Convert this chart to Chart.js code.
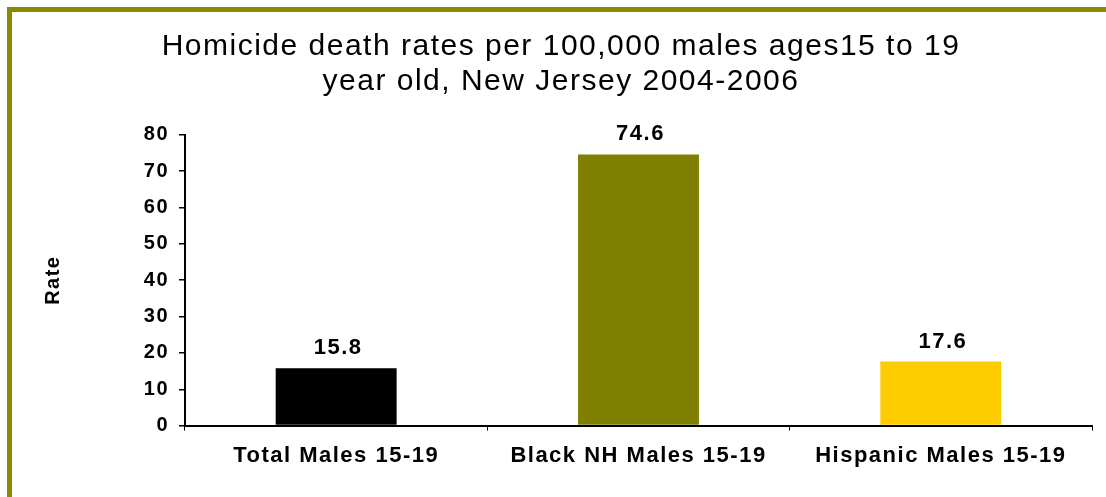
<!DOCTYPE html>
<html>
<head>
<meta charset="utf-8">
<script src="https://cdn.jsdelivr.net/npm/chart.js@4.4.1/dist/chart.umd.min.js"></script>
<style>
  html, body { margin: 0; padding: 0; background: #fff; }
  #frame {
    position: absolute; left: 7px; top: 7px; right: 0; bottom: 0;
    border-left: 5px solid #8a8a00; border-top: 5px solid #8a8a00;
  }
  #wrap { position: absolute; left: 0; top: 0; width: 1106px; height: 497px; }
</style>
</head>
<body>
<div id="frame"></div>
<div id="wrap"><canvas id="chart"></canvas></div>
<script>
// data
const categories = ['Total Males 15-19', 'Black NH Males 15-19', 'Hispanic Males 15-19'];
const rates = [15.8, 74.6, 17.6];
const barColors = ['#000000', '#808000', '#ffcc00'];
const titleLines = ['Homicide death rates per 100,000 males ages15 to 19', 'year old, New Jersey 2004-2006'];
const yMin = 0, yMax = 80, yStep = 10;

const FONT = '"Liberation Sans", Arial, sans-serif';

// canvas letter spacing (chart.js has no option for it)
const spacing = {
  id: 'spacing',
  beforeLayout(chart) { chart.ctx.letterSpacing = '1.5px'; },
  beforeDraw(chart) { chart.ctx.letterSpacing = '1.5px'; }
};

// value labels above the bars
const valueLabels = {
  id: 'valueLabels',
  afterDatasetsDraw(chart) {
    const ctx = chart.ctx;
    const meta = chart.getDatasetMeta(0);
    ctx.save();
    ctx.font = 'bold 22px ' + FONT;
    ctx.fillStyle = '#000';
    ctx.textAlign = 'center';
    ctx.textBaseline = 'alphabetic';
    meta.data.forEach((bar, i) => {
      ctx.fillText(rates[i].toFixed(1), bar.x + 2, bar.y - 14);
    });
    ctx.restore();
  }
};

new Chart(document.getElementById('chart'), {
  type: 'bar',
  data: {
    labels: categories,
    datasets: [{
      data: rates,
      backgroundColor: barColors,
      borderWidth: 0,
      categoryPercentage: 0.4,
      barPercentage: 1.0
    }]
  },
  options: {
    responsive: true,
    maintainAspectRatio: false,
    animation: false,
    layout: { padding: { left: 30, right: 14, top: 0, bottom: 0 } },
    plugins: {
      legend: { display: false },
      tooltip: { enabled: false },
      title: {
        display: true,
        text: titleLines,
        color: '#000',
        font: { family: FONT, size: 30, weight: 'normal', lineHeight: 1.18 },
        padding: { top: 29, bottom: 35 }
      }
    },
    scales: {
      x: {
        afterFit(scale) { scale.height = 71.4; },
        grid: { offset: true, drawOnChartArea: false, drawTicks: true, tickLength: 5, color: '#000', lineWidth: 1 },
        border: { display: true, color: '#000', width: 2 },
        ticks: { color: '#000', padding: 12, font: { family: FONT, size: 22, weight: 'bold' } }
      },
      y: {
        min: yMin,
        max: yMax,
        afterFit(scale) { scale.width = 155; },
        grid: { drawOnChartArea: false, drawTicks: true, tickLength: 6, color: '#000', lineWidth: 1.5 },
        border: { display: true, color: '#000', width: 2 },
        ticks: { stepSize: yStep, color: '#000', padding: 10, font: { family: FONT, size: 20, weight: 'bold' } },
        title: {
          display: true,
          text: 'Rate',
          color: '#000',
          font: { family: FONT, size: 20, weight: 'bold' },
          padding: { top: 11, bottom: 0 }
        }
      }
    }
  },
  plugins: [spacing, valueLabels]
});
</script>
</body>
</html>
